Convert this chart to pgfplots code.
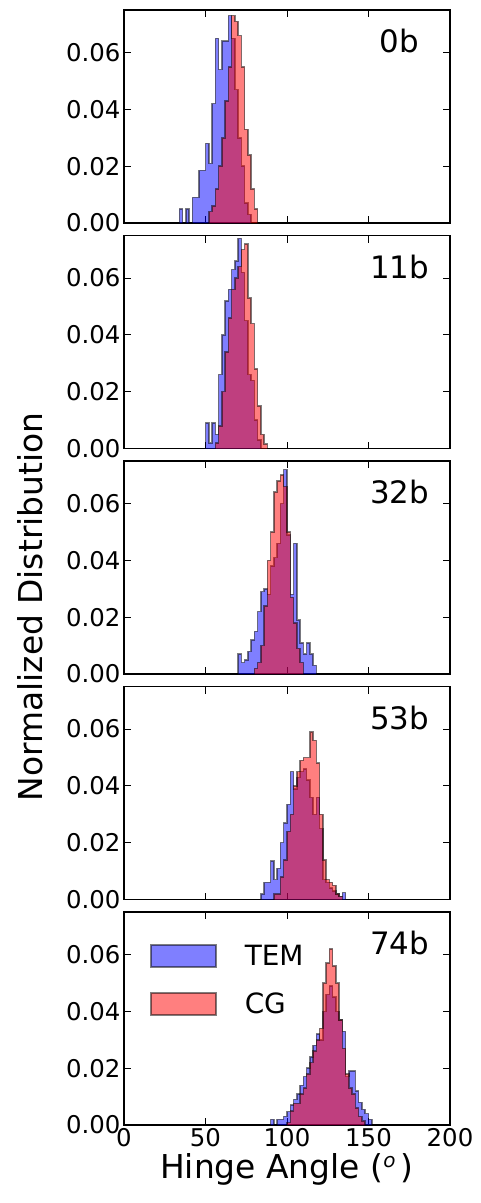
\documentclass[border=0pt]{standalone}
\usepackage{pgfplots}
\pgfplotsset{compat=1.18}
\usepackage{fontspec}
\setmainfont{DejaVu Sans}
\definecolor{tem}{rgb}{0,0,1}
\definecolor{cg}{rgb}{1,0,0}
\pgfplotsset{
  panel/.style={scale only axis, width=326bp, height=213bp,
    xmin=0, xmax=200, ymin=0, ymax=0.075, anchor=north west,
    xtick={0,50,100,150,200}, ytick={0,0.02,0.04,0.06},
    scaled y ticks=false,
    yticklabel style={/pgf/number format/fixed, /pgf/number format/fixed zerofill, /pgf/number format/precision=2},
    /pgf/number format/assume math mode=true,
    tick label style={font=\fontsize{24.5}{24.5}\selectfont, black},
    major tick length=7bp, tick style={black, line width=1bp},
    axis line style={line width=1.2bp},
    tick align=inside, minor tick num=0,
    clip=true,
  },
  tem/.style={const plot, fill=tem, fill opacity=0.5, draw=black, draw opacity=0.5, line width=1.5bp},
  cg/.style={const plot, fill=cg, fill opacity=0.5, draw=black, draw opacity=0.5, line width=1.5bp},
}
\newcommand{\plab}[1]{\node[anchor=base, font=\fontsize{31}{31}\selectfont] at (rel axis cs:0.845,0.80) {#1};}
\begin{document}
\begin{tikzpicture}
\useasboundingbox (0,0) rectangle (481bp,-1203bp);
% ---- 0b
\begin{axis}[panel, at={(124bp,-10bp)}, xticklabels={}]
\addplot[tem] coordinates {(34,0)(34,0.005)(36,0)(38,0.005)(40,0)(42,0.009)(44,0.009)(46,0.0185)(48,0.0185)(50,0.028)(52,0.021)(54,0.042)(56,0.065)(58,0.054)(60,0.064)(62,0.064)(64,0.073)(66,0.065)(68,0.047)(70,0.03)(72,0.02)(74,0.007)(76,0.003)(78,0)};
\addplot[cg] coordinates {(52,0)(52,0.004)(54,0.006)(56,0.012)(58,0.02)(60,0.03)(62,0.043)(64,0.055)(66,0.073)(68,0.071)(70,0.066)(72,0.055)(74,0.033)(76,0.024)(78,0.012)(80,0.005)(82,0)};
\plab{0b}
\end{axis}
% ---- 11b
\begin{axis}[panel, at={(124bp,-235.5bp)}, xticklabels={}]
\addplot[tem] coordinates {(50,0)(50,0.009)(52,0.002)(54,0.009)(56,0.005)(58,0.026)(60,0.04)(62,0.052)(64,0.056)(66,0.063)(68,0.066)(70,0.074)(72,0.062)(74,0.045)(76,0.026)(78,0.024)(80,0.01)(82,0.003)(84,0)};
\addplot[cg] coordinates {(56,0)(56,0.002)(58,0.008)(60,0.02)(62,0.034)(64,0.046)(66,0.056)(68,0.06)(70,0.064)(72,0.07)(74,0.072)(76,0.053)(78,0.044)(80,0.028)(82,0.015)(84,0.005)(86,0.0015)(88,0)};
\plab{11b}
\end{axis}
% ---- 32b
\begin{axis}[panel, at={(124bp,-461bp)}, xticklabels={}]
\addplot[tem] coordinates {(70,0)(70,0.007)(72,0.004)(74,0.005)(76,0.008)(78,0.012)(80,0.015)(82,0.022)(84,0.029)(86,0.030)(88,0.028)(90,0.038)(92,0.041)(94,0.046)(96,0.06)(98,0.072)(100,0.049)(102,0.028)(104,0.046)(106,0.019)(108,0.011)(110,0.007)(112,0.011)(114,0.007)(116,0.003)(118,0)};
\addplot[cg] coordinates {(80,0)(80,0.002)(82,0.004)(84,0.01)(86,0.024)(88,0.04)(90,0.05)(92,0.064)(94,0.068)(96,0.07)(98,0.066)(100,0.05)(102,0.027)(104,0.018)(106,0.009)(108,0.004)(110,0)};
\plab{32b}
\end{axis}
% ---- 53b
\begin{axis}[panel, at={(124bp,-686.5bp)}, xticklabels={}]
\addplot[tem] coordinates {(84,0)(84,0.002)(86,0.006)(88,0.006)(90,0.0135)(92,0.007)(94,0.011)(96,0.02)(98,0.027)(100,0.0335)(102,0.045)(104,0.039)(106,0.043)(108,0.045)(110,0.046)(112,0.042)(114,0.036)(116,0.03)(118,0.036)(120,0.025)(122,0.007)(124,0.006)(126,0.004)(128,0.003)(130,0.002)(132,0.001)(134,0.0024)(136,0)};
\addplot[cg] coordinates {(92,0)(92,0.002)(94,0.002)(96,0.008)(98,0.014)(100,0.024)(102,0.03)(104,0.04)(106,0.045)(108,0.049)(110,0.05)(112,0.05)(114,0.059)(116,0.056)(118,0.048)(120,0.03)(122,0.014)(124,0.007)(126,0.006)(128,0.005)(130,0.002)(132,0.001)(134,0)};
\plab{53b}
\end{axis}
% ---- 74b
\begin{axis}[panel, at={(124bp,-912bp)},
  xlabel={Hinge Angle (\raisebox{0.35em}{\fontsize{20}{20}\selectfont\itshape o}\,)},
  xlabel style={font=\fontsize{33}{33}\selectfont},
  legend style={at={(0.08,0.855)}, anchor=north west, draw=none, fill=none, inner sep=0pt,
    font=\fontsize{28}{28}\selectfont, row sep=22bp},
  legend cell align=left,
  legend image code/.code={\draw[#1] (0bp,-11bp) rectangle (65bp,11bp); \path (91bp,0bp);},
]
\addplot[tem] coordinates {(90,0)(90,0.002)(92,0.0)(94,0.002)(96,0.002)(98,0.003)(100,0.0047)(102,0.007)(104,0.009)(106,0.011)(108,0.014)(110,0.017)(112,0.02)(114,0.024)(116,0.028)(118,0.032)(120,0.03)(122,0.04)(124,0.046)(126,0.049)(128,0.045)(130,0.04)(132,0.037)(134,0.033)(136,0.017)(138,0.019)(140,0.019)(142,0.012)(144,0.008)(146,0.0055)(148,0.004)(150,0.002)(152,0)};
\addlegendentry{TEM}
\addplot[cg] coordinates {(100,0)(100,0.0008)(102,0.005)(104,0.0076)(106,0.0076)(108,0.011)(110,0.013)(112,0.018)(114,0.022)(116,0.026)(118,0.03)(120,0.034)(122,0.05)(124,0.057)(126,0.062)(128,0.056)(130,0.05)(132,0.037)(134,0.027)(136,0.018)(138,0.013)(140,0.011)(142,0.006)(144,0.003)(146,0.0015)(148,0)};
\addlegendentry{CG}
\plab{74b}
\end{axis}
\node[rotate=90, font=\fontsize{33}{33}\selectfont] at (30bp,-607bp) {Normalized Distribution};
\end{tikzpicture}
\end{document}
